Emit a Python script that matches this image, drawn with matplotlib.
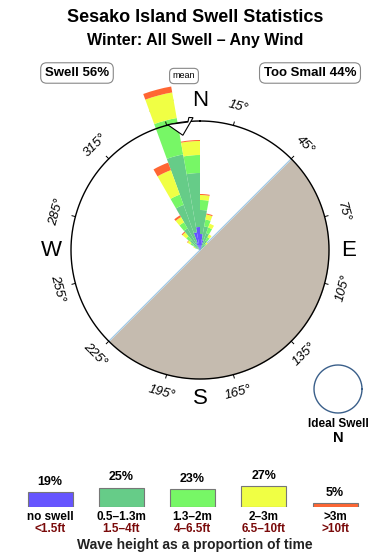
import numpy as np
import matplotlib
matplotlib.use("Agg")
import matplotlib.pyplot as plt

plt.rcParams['font.family'] = ['Liberation Sans', 'DejaVu Sans']

# ---- data -------------------------------------------------------------
# direction bins (deg, clockwise from north), 10 deg wide
directions = [295, 305, 315, 325, 335, 345, 355, 5, 15, 25, 35, 45]
# per-band petal lengths (stacked from centre), arbitrary units
no_swell = [0.0, 0.0, 0.0, 0.2, 0.8, 1.8, 2.3, 1.6, 1.0, 0.4, 0.0, 0.0]
band_05_13 = [0.4, 0.8, 1.3, 2.3, 4.0, 7.9, 5.4, 2.4, 1.4, 1.4, 1.1, 0.6]
band_13_2 = [0.15, 0.3, 0.5, 0.7, 1.1, 3.7, 1.8, 1.0, 0.7, 0.6, 0.4, 0.2]
band_2_3 = [0.15, 0.35, 0.5, 0.6, 2.6, 2.6, 1.4, 0.5, 0.5, 0.4, 0.3, 0.2]
band_3_up = [0.0, 0.05, 0.1, 0.2, 0.8, 0.6, 0.1, 0.1, 0.1, 0.0, 0.0, 0.0]
bands = [no_swell, band_05_13, band_13_2, band_2_3, band_3_up]

band_colors = ['#6655ff', '#66cc88', '#77f766', '#f0ff44', '#ff6633']
legend_pct = [19, 25, 23, 27, 5]
legend_m = ['no swell', '0.5\u20131.3m', '1.3\u20132m', '2\u20133m', '>3m']
legend_ft = ['<1.5ft', '1.5\u20134ft', '4\u20136.5ft', '6.5\u201310ft', '>10ft']

tick_degs = [15, 45, 75, 105, 135, 165, 195, 225, 255, 285, 315, 345]
compass = [('N', 0), ('E', 90), ('S', 180), ('W', 270)]
mean_dir = 352
shadow_from, shadow_to = 45, 225   # sheltered sector
ring = 12.9

fig = plt.figure(figsize=(3.9, 5.6), dpi=100)

fig.text(0.5, 1 - 18 / 560, 'Sesako Island Swell Statistics', ha='center',
         va='center', fontsize=13, fontweight='bold')
fig.text(0.5, 1 - 41 / 560, 'Winter: All Swell \u2013 Any Wind', ha='center',
         va='center', fontsize=11.5, fontweight='bold')

box = dict(boxstyle='round,pad=0.32,rounding_size=0.45', fc='white', ec='#888888', lw=0.8)
fig.text(77 / 390, 1 - 73 / 560, 'Swell 56%', ha='center', va='center',
         fontsize=9.5, fontweight='bold', bbox=box)
fig.text(310 / 390, 1 - 73 / 560, 'Too Small 44%', ha='center', va='center',
         fontsize=9.5, fontweight='bold', bbox=box)
fig.text(184 / 390, 1 - 76 / 560, 'mean', ha='center', va='center',
         fontsize=6.5, bbox=dict(boxstyle='round,pad=0.35,rounding_size=0.5',
                                  fc='white', ec='#888888', lw=0.8))

# ---- rose -------------------------------------------------------------
rmax = 17.0
ax = fig.add_axes([30 / 390, 140 / 560, 340 / 390, 340 / 560], projection='polar')
ax.set_theta_zero_location('N')
ax.set_theta_direction(-1)
ax.set_ylim(0, rmax)
ax.axis('off')

th = np.deg2rad(np.linspace(shadow_from, shadow_to, 181))
ax.fill_between(th, 0, ring, color='#c5bbaf', lw=0, zorder=1)
for d in (shadow_from, shadow_to):
    ax.plot([np.deg2rad(d)] * 2, [0, ring], color='#9cc8e8', lw=0.8, zorder=1.5)

theta = np.deg2rad(directions)
bottom = np.zeros(len(directions))
for vals, col in zip(bands, band_colors):
    ax.bar(theta, vals, width=np.deg2rad(10), bottom=bottom, color=col,
           lw=0, zorder=2)
    bottom += np.array(vals)

full = np.linspace(0, 2 * np.pi, 361)
ax.plot(full, np.full_like(full, ring), color='black', lw=1.0, zorder=3)

for d in tick_degs:
    t = np.deg2rad(d)
    ax.plot([t, t], [ring, ring + 0.35], color='black', lw=0.7, zorder=3)
    rot = ((-d + 90) % 180) - 90
    ax.text(t, ring + 1.9, f'{d}\u00b0', rotation=rot, rotation_mode='anchor',
            ha='center', va='center', fontsize=9.5, fontstyle='italic', zorder=1.8)

for lab, d in compass:
    ax.text(np.deg2rad(d), ring + 2.0, lab, ha='center', va='center', fontsize=16)

# mean-direction arrowhead sitting on the ring
m = mean_dir
arrow_t = np.deg2rad([m - 6.5, m - 0.5, m + 5.0, m + 3.2, m + 2.6])
arrow_r = [ring + 0.05, ring - 1.3, ring + 0.35, ring + 0.4, ring - 0.05]
ax.fill(arrow_t, arrow_r, fc='white', ec='black', lw=0.8, zorder=4)

# ---- ideal swell marker ----------------------------------------------
cx, cy = 338, 389
ax2 = fig.add_axes([(cx - 30) / 390, (560 - cy - 30) / 560, 60 / 390, 60 / 560],
                   projection='polar')
ax2.set_ylim(0, 1.25)
ax2.axis('off')
ax2.plot(full, np.ones_like(full), color='#3a5f8a', lw=1.0)
fig.text(cx / 390, 1 - 424 / 560, 'Ideal Swell', ha='center', va='center',
         fontsize=8.5, fontweight='bold')
fig.text(cx / 390, 1 - 438 / 560, 'N', ha='center', va='center',
         fontsize=10.5, fontweight='bold')

# ---- legend bars -------------------------------------------------------
px_per_pct = 0.78
lg = fig.add_axes([0, 53 / 560, 1, 30 / 560])
step = 71.3
lg.set_xlim(-50 / step, (390 - 50) / step)
lg.set_ylim(0, 30 / px_per_pct)
lg.axis('off')
xs = np.arange(len(legend_pct))
lg.bar(xs, legend_pct, width=45 / step, color=band_colors, edgecolor='#777777', lw=0.8)
for x, p, lm, lf in zip(xs, legend_pct, legend_m, legend_ft):
    lg.annotate(f'{p}%', (x, p), xytext=(0, 3), textcoords='offset points',
                ha='center', va='bottom', fontsize=9, fontweight='bold')
    lg.annotate(lm, (x, 0), xytext=(0, -10 * 0.72), textcoords='offset points',
                ha='center', va='center', fontsize=8.5, fontweight='bold')
    lg.annotate(lf, (x, 0), xytext=(0, -22 * 0.72), textcoords='offset points',
                ha='center', va='center', fontsize=8.5, fontweight='bold',
                color='#7a0a0a')
fig.text(0.5, 1 - 545 / 560, 'Wave height as a proportion of time', ha='center',
         va='center', fontsize=10, fontweight='bold', color='#222222')

fig.savefig('out.png', dpi=100)
